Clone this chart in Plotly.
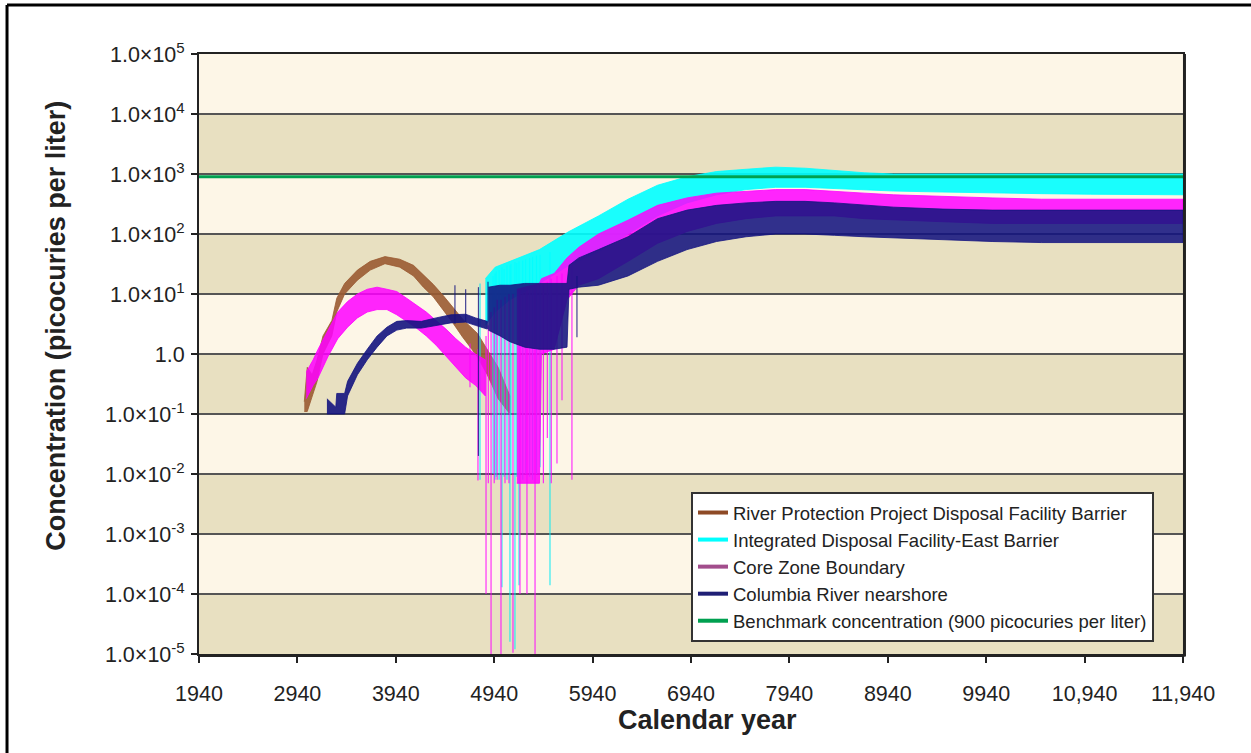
import plotly.graph_objects as go

# ---------------- data ----------------
# River Protection Project Disposal Facility Barrier (brown) - band envelope
brown_years = [3010, 3040, 3090, 3140, 3200, 3290, 3340, 3420, 3550, 3680, 3830,
               3980, 4120, 4220, 4320, 4420, 4520, 4620, 4770, 4870, 4980, 5100]
brown_low = [0.11, 0.11, 0.2, 0.35, 1.0, 2.0, 5.0, 10, 17, 25, 32,
             28, 20, 13, 9, 5.5, 3.3, 1.9, 0.9, 0.45, 0.18, 0.1]
brown_high = [0.16, 0.6, 0.45, 0.8, 2.0, 3.6, 8.5, 15, 25, 35, 42,
              38, 30, 21, 14.5, 9.5, 6, 3.8, 2.2, 1.2, 0.6, 0.2]

# Integrated Disposal Facility-East Barrier (cyan)
cyan_years = [4850, 4950, 5100, 5400, 5700, 6000, 6300, 6600, 6900, 7200, 7500,
              7800, 8100, 8400, 8700, 9000, 9500, 10000, 10500, 11000, 11500, 11940]
cyan_low = [3, 5, 8, 15, 30, 50, 100, 200, 330, 450, 550,
            600, 600, 580, 550, 520, 500, 480, 470, 460, 450, 450]
cyan_high = [18, 28, 35, 55, 110, 200, 380, 650, 900, 1100, 1200,
             1300, 1250, 1150, 1050, 1000, 1000, 1000, 1000, 1000, 1000, 1000]
cyan_spike_years = [4796, 4928, 4948, 4960, 4990, 5019, 5040, 5070, 5100, 5110, 5151,
                    5170, 5192, 5230, 5260, 5300, 5330, 5370, 5406, 5507]
cyan_spike_min = [0.008, 0.01, 0.008, 0.009, 0.008, 1.3e-4, 0.009, 0.008, 1.6e-5, 0.01, 1.2e-5,
                  0.009, 1.4e-4, 0.008, 0.01, 0.009, 0.008, 0.01, 0.013, 1.4e-4]
cyan_spike_max = [15, 20, 22, 24, 25, 28, 26, 30, 30, 32, 34,
                  33, 35, 36, 38, 40, 42, 44, 45, 50]

# Core Zone Boundary (magenta)
core_years_a = [3030, 3100, 3150, 3250, 3350, 3450, 3550, 3650, 3750, 3850,
                3950, 4050, 4150, 4250, 4350, 4450, 4550, 4650, 4750, 4850]
core_low_a = [0.18, 0.3, 0.4, 0.9, 1.8, 2.8, 4, 5, 5.5, 5.5,
              4.5, 3.5, 2.7, 2, 1.4, 0.9, 0.6, 0.4, 0.3, 0.2]
core_high_a = [0.5, 0.8, 1.2, 2.5, 5, 7.5, 10, 12, 13, 12,
               11, 8.5, 6.5, 5, 3.6, 2.6, 1.8, 1.3, 1.0, 0.8]
core_years_b = [5170, 5400, 5420, 5550, 5680, 5800, 6000, 6300, 6600, 6900, 7200,
                7500, 7800, 8100, 8400, 8700, 9000, 9500, 10000, 10500, 11000, 11500, 11940]
core_low_b = [0.007, 0.007, 1.0, 1.2, 8, 14, 18, 35, 70, 110, 150,
              180, 200, 200, 200, 180, 170, 160, 150, 150, 150, 150, 150]
core_high_b = [12, 15, 18, 22, 40, 60, 100, 170, 300, 400, 480,
               520, 550, 550, 520, 480, 450, 420, 400, 380, 380, 380, 380]
core_spike_years = [4694, 4775, 4857, 4880, 4908, 4940, 4970, 5009, 5050, 5090, 5131,
                    5202, 5273, 5355, 5440, 5480, 5520, 5578, 5629, 5730]
core_spike_min = [0.28, 0.0078, 1e-4, 0.007, 1e-5, 0.007, 0.008, 1e-5, 0.007, 0.007, 1.05e-5,
                  1.0e-4, 1.0e-4, 1e-5, 0.007, 0.04, 0.007, 0.015, 0.17, 0.008]
core_spike_max = [1.5, 1.2, 2, 3, 5, 6, 8, 8, 9, 10, 10,
                  12, 12, 14, 15, 16, 18, 20, 22, 30]

# Columbia River nearshore (navy)
navy_years_a = [3240, 3330, 3340, 3420, 3450, 3550, 3650, 3750, 3850, 3950,
                4050, 4200, 4350, 4500, 4650, 4750, 4870]
navy_low_a = [0.1, 0.1, 0.1, 0.1, 0.2, 0.45, 0.8, 1.3, 2.0, 2.5,
              2.7, 2.7, 3.0, 3.3, 3.4, 3.0, 2.6]
navy_high_a = [0.18, 0.13, 0.22, 0.22, 0.35, 0.7, 1.2, 2.0, 2.8, 3.5,
               3.6, 3.5, 4.0, 4.5, 4.6, 4.0, 3.5]
navy_years_b = [4880, 5000, 5100, 5250, 5400, 5550, 5680, 5700, 5800, 6000, 6300,
                6600, 6900, 7200, 7500, 7800, 8100, 8400, 8700, 9000, 9500,
                10000, 10500, 11000, 11500, 11940]
navy_low_b = [2.5, 2.0, 1.6, 1.3, 1.2, 1.2, 1.3, 12, 13, 14, 20,
              35, 55, 75, 90, 100, 100, 95, 90, 85, 80,
              75, 72, 72, 72, 72]
navy_high_b = [13, 14, 14, 15, 15, 15, 15, 30, 40, 55, 90,
               180, 250, 300, 330, 350, 350, 330, 300, 280, 260,
               250, 250, 250, 250, 250]
navy_spike_years = [4541, 4650, 4780, 4877, 5781]
navy_spike_min = [3.2, 3.4, 0.02, 2.6, 1.9]
navy_spike_max = [14, 12, 13, 16, 20]

benchmark_value = 900
x_ticks = [1940, 2940, 3940, 4940, 5940, 6940, 7940, 8940, 9940, 10940, 11940]
x_ticktext = ["1940", "2940", "3940", "4940", "5940", "6940", "7940", "8940",
              "9940", "10,940", "11,940"]
y_ticks = [1e-5, 1e-4, 1e-3, 1e-2, 1e-1, 1, 1e1, 1e2, 1e3, 1e4, 1e5]
y_ticktext = ["1.0×10<sup>-5</sup>", "1.0×10<sup>-4</sup>", "1.0×10<sup>-3</sup>",
              "1.0×10<sup>-2</sup>", "1.0×10<sup>-1</sup>", "1.0",
              "1.0×10<sup>1</sup>", "1.0×10<sup>2</sup>", "1.0×10<sup>3</sup>",
              "1.0×10<sup>4</sup>", "1.0×10<sup>5</sup>"]

legend_names = ["River Protection Project Disposal Facility Barrier",
                "Integrated Disposal Facility-East Barrier",
                "Core Zone Boundary",
                "Columbia River nearshore",
                "Benchmark concentration (900 picocuries per liter)"]
legend_colors = ["#8E4A26", "#00FFFF", "#A24D8C", "#1F1F75", "#00A050"]

BROWN = "rgb(154,91,50)"
CYAN = "rgb(0,255,255)"
MAG = "rgb(255,0,255)"
NAVY = "rgb(20,20,128)"

FONT = "Liberation Sans, Arial, sans-serif"

fig = go.Figure()


def band(years, low, high, color, fill, width=0.8):
    fig.add_trace(go.Scatter(
        x=list(years) + list(years)[::-1],
        y=list(high) + list(low)[::-1],
        mode="lines", fill="toself", fillcolor=fill,
        line=dict(color=color, width=width),
        showlegend=False, hoverinfo="skip"))


def spikes(years, lo, hi, color, width=1.2):
    xs, ys = [], []
    for yr, a, b in zip(years, lo, hi):
        xs += [yr, yr, None]
        ys += [a, b, None]
    fig.add_trace(go.Scatter(x=xs, y=ys, mode="lines",
                             line=dict(color=color, width=width),
                             showlegend=False, hoverinfo="skip"))


band(brown_years, brown_low, brown_high, BROWN, "rgba(154,91,50,0.9)")
spikes(cyan_spike_years, cyan_spike_min, cyan_spike_max, "rgba(0,235,245,0.8)")
band(cyan_years, cyan_low, cyan_high, CYAN, "rgba(0,255,255,0.9)")
spikes(core_spike_years, core_spike_min, core_spike_max, "rgba(255,0,255,0.8)")
band(core_years_a, core_low_a, core_high_a, MAG, "rgba(255,0,255,0.85)")
band(core_years_b, core_low_b, core_high_b, MAG, "rgba(255,0,255,0.85)")
band(navy_years_a, navy_low_a, navy_high_a, NAVY, "rgba(20,20,128,0.9)")
band(navy_years_b, navy_low_b, navy_high_b, NAVY, "rgba(20,20,128,0.88)")
spikes(navy_spike_years, navy_spike_min, navy_spike_max, "rgba(20,20,128,0.8)")

fig.add_trace(go.Scatter(x=[x_ticks[0], x_ticks[-1]], y=[benchmark_value, benchmark_value],
                         mode="lines", line=dict(color="#00A050", width=3),
                         showlegend=False, hoverinfo="skip"))

# legend-only entries
for i, (nm, col) in enumerate(zip(legend_names, legend_colors)):
    fig.add_trace(go.Scatter(x=[None], y=[None], mode="lines", name=nm,
                             line=dict(color=col, width=4), legendgroup=f"g{i}"))

# background bands (alternate decades)
shapes = []
for k in range(10):
    if k % 2 == 0:
        shapes.append(dict(type="rect", xref="paper", yref="paper",
                           x0=0, x1=1, y0=k * 0.1, y1=(k + 1) * 0.1,
                           fillcolor="#E8E0C1", line=dict(width=0), layer="below"))
# outer frame (top and left edges visible; right/bottom cut off in the original)
# plot area: x pixel 199..1183, y pixel 54..654 in a 1251x753 page
shapes.append(dict(type="line", xref="paper", yref="paper", x0=-0.1951, x1=1.08,
                   y0=1.0817, y1=1.0817, line=dict(color="black", width=3)))
shapes.append(dict(type="line", xref="paper", yref="paper", x0=-0.1951, x1=-0.1951,
                   y0=1.0817, y1=-0.2, line=dict(color="black", width=3)))
# heavier right/bottom edge of plot frame
shapes.append(dict(type="line", xref="paper", yref="paper", x0=1.0015, x1=1.0015,
                   y0=1.0, y1=-0.004, line=dict(color="#222", width=3)))
shapes.append(dict(type="line", xref="paper", yref="paper", x0=0, x1=1.0015,
                   y0=-0.0025, y1=-0.0025, line=dict(color="#222", width=3)))

fig.update_layout(
    width=1251, height=753,
    margin=dict(l=199, r=68, t=54, b=99),
    paper_bgcolor="white",
    plot_bgcolor="#FDF6E7",
    font=dict(family=FONT, color="#222", size=18),
    shapes=shapes,
    showlegend=True,
    legend=dict(x=0.5, y=0.27, xanchor="left", yanchor="top",
                bgcolor="white", bordercolor="#333", borderwidth=2,
                font=dict(family=FONT, size=18.5, color="#222"),
                tracegroupgap=0),
    annotations=[
        dict(text="<b>Calendar year</b>", xref="paper", yref="paper",
             x=0.517, y=-0.11, showarrow=False, xanchor="center", yanchor="middle",
             font=dict(family=FONT, size=27, color="#222")),
        dict(text="<b>Concentration (picocuries per liter)</b>", xref="paper", yref="paper",
             x=-0.1453, y=0.547, showarrow=False, textangle=-90,
             xanchor="center", yanchor="middle",
             font=dict(family=FONT, size=27, color="#222")),
    ],
)

fig.update_xaxes(range=[1940, 11940], tickvals=x_ticks, ticktext=x_ticktext,
                 ticks="outside", ticklen=7, tickwidth=2, tickcolor="#222",
                 showgrid=False, zeroline=False, showline=True, mirror=True,
                 linecolor="#222", linewidth=2,
                 tickfont=dict(family=FONT, size=21.5, color="#222"),
                 ticklabelstandoff=12)
fig.update_yaxes(type="log", range=[-5, 5], tickvals=y_ticks, ticktext=y_ticktext,
                 ticks="outside", ticklen=6, tickwidth=1.5, tickcolor="#222",
                 showgrid=True, gridcolor="#555", gridwidth=1.5,
                 zeroline=False, showline=True, mirror=True,
                 linecolor="#222", linewidth=2,
                 tickfont=dict(family=FONT, size=21.5, color="#222"),
                 ticklabelstandoff=2)

fig.write_html(
    "out.html",
    config={"displayModeBar": False},
    post_script="document.body.style.margin='0';document.body.style.overflow='hidden';",
)
